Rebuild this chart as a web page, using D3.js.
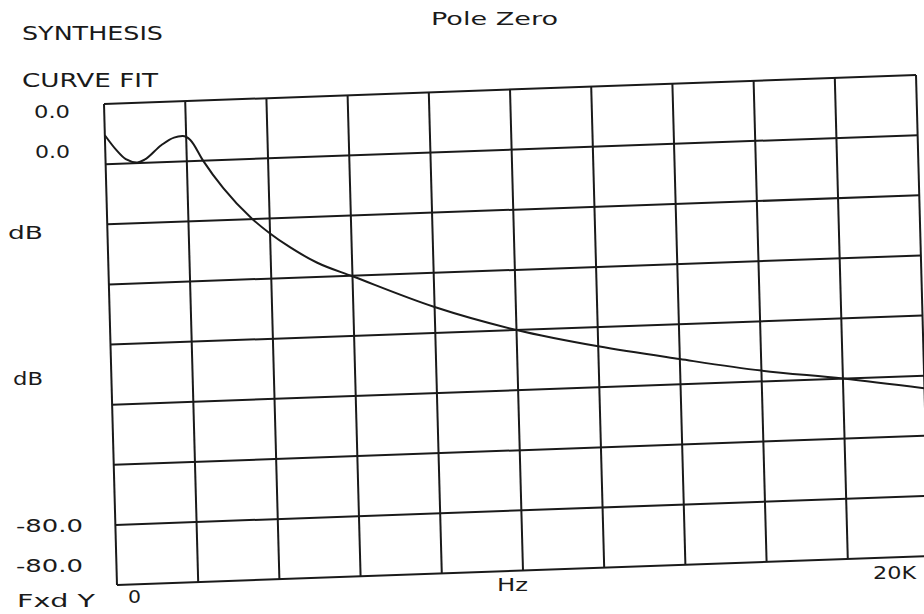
<!DOCTYPE html>
<html>
<head>
<meta charset="utf-8">
<script src="https://cdn.jsdelivr.net/npm/d3@7"></script>
<style>
  body { margin: 0; background: #fff; }
  svg text { font-family: "DejaVu Sans", sans-serif; fill: #1a1a1a; }
</style>
</head>
<body>
<svg width="924" height="614"></svg>
<script>
// synthesis curve fit (Hz, dB)
var freqHz = [0, 270, 500, 780, 960, 1380, 1700, 1910, 2100, 2400, 2880, 3560, 4000, 4480, 5130, 6000, 8000, 10000, 12000, 14000, 16000, 18000, 20000];
var magDb = [-5.2, -7.7, -9.3, -9.9, -9.5, -7.2, -6.0, -5.8, -6.5, -10.0, -14.7, -19.9, -22.5, -24.9, -27.6, -30.1, -35.7, -40.0, -43.2, -45.8, -48.2, -50.0, -52.1];

var xTicks = d3.range(0, 20001, 2000);
var yTicks = d3.range(0, -81, -10);
var yLabels = ['0.0', '0.0', 'dB', 'dB', '-80.0', '-80.0'];

var W = 812, H = 481;

var svg = d3.select('svg');
svg.append('rect').attr('width', 924).attr('height', 614).attr('fill', '#fff');

// the scan is a little skewed, so the plot frame is too
var g = svg.append('g').attr('transform', 'matrix(1,-0.0357,0.027,1,104,104)');

var x = d3.scaleLinear().domain([0, 20000]).range([0, W]);
var y = d3.scaleLinear().domain([0, -80]).range([0, H]);

g.selectAll('.vg').data(xTicks).enter().append('line')
  .attr('x1', function(d){ return x(d); }).attr('x2', function(d){ return x(d); })
  .attr('y1', 0).attr('y2', H)
  .attr('stroke', '#1a1a1a').attr('stroke-width', 2);

g.selectAll('.hg').data(yTicks).enter().append('line')
  .attr('x1', 0).attr('x2', W)
  .attr('y1', function(d){ return y(d); }).attr('y2', function(d){ return y(d); })
  .attr('stroke', '#1a1a1a').attr('stroke-width', 2);

var line = d3.line()
  .x(function(d, i){ return x(freqHz[i]); })
  .y(function(d){ return y(d); })
  .curve(d3.curveMonotoneX);

g.append('path').datum(magDb).attr('d', line)
  .attr('fill', 'none').attr('stroke', '#1a1a1a').attr('stroke-width', 2);

function label(t, px, py, len, size) {
  svg.append('text').text(t).attr('x', px).attr('y', py)
    .attr('font-size', size).attr('textLength', len).attr('lengthAdjust', 'spacingAndGlyphs');
}

label('SYNTHESIS', 22, 40, 141, 19);
label('CURVE FIT', 22, 87, 136, 19);
label('Pole Zero', 431, 25, 127, 18);

var yLabX = [34, 35, 8, 13, 16, 16];
var yLabY = [118, 158, 239, 385, 532, 572];
var yLabW = [36, 35, 35, 30, 67, 67];
yLabels.forEach(function(t, i){ label(t, yLabX[i], yLabY[i], yLabW[i], 17); });

label('Fxd Y', 17, 607, 78, 17);
label('0', 128, 603, 13, 17);
label('Hz', 497, 591, 31, 17);
label('20K', 873, 579, 43, 17);
</script>
</body>
</html>
